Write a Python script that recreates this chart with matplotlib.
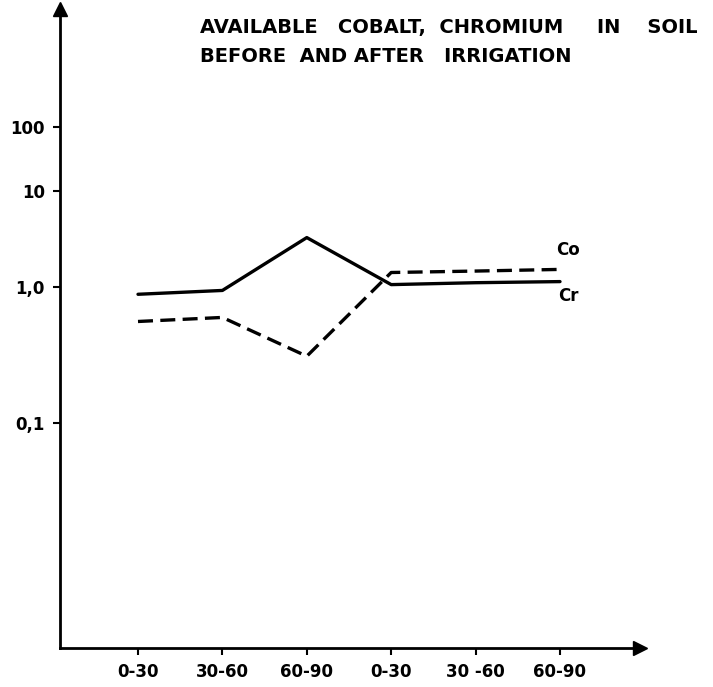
import matplotlib
matplotlib.use("Agg")
import matplotlib.pyplot as plt
import numpy as np

# depth ranges (cm), before and after irrigation
depths = ['0-30', '30-60', '60-90', '0-30', '30 -60', '60-90']
co_vals = [0.56, 0.60, 0.31, 1.43, 1.48, 1.54]   # dashed
cr_vals = [0.89, 0.95, 3.3, 1.07, 1.12, 1.15]     # solid
ytick_vals = [0.1, 1.0, 10, 100]
ytick_labels = ['0,1', '1,0', '10', '100']

# the hand drawn axis is not a true log scale: decades have unequal heights
anchor_log = np.array([-5.0, -1.0, 0.0, 1.0, 2.0, 5.0])
anchor_pos = np.array([-540.0, 0.0, 135.0, 231.0, 295.0, 487.0])


def forward(v):
    v = np.clip(np.asarray(v, dtype=float), 1e-6, None)
    return np.interp(np.log10(v), anchor_log, anchor_pos)


def inverse(p):
    return 10 ** np.interp(np.asarray(p, dtype=float), anchor_pos, anchor_log)


fig = plt.figure(figsize=(7.13, 6.87), dpi=100)
ax = fig.add_axes([60 / 713, 39 / 687, 580 / 713, 639 / 687])
ax.set_yscale('function', functions=(forward, inverse))

x = np.arange(1, len(depths) + 1)
ax.plot(x, cr_vals, color='black', lw=2.4, solid_capstyle='round')
ax.plot(x, co_vals, color='black', lw=2.4, dashes=(4.5, 2.2))

ax.set_xlim(1 - 78 / 84.4, 1 + 502 / 84.4)
ax.set_ylim(inverse(-225), inverse(413))

ax.set_xticks(x)
ax.set_xticklabels(depths, fontsize=12, fontweight='bold')
ax.set_yticks(ytick_vals)
ax.set_yticklabels(ytick_labels, fontsize=12, fontweight='bold')
ax.yaxis.set_minor_locator(plt.NullLocator())
ax.xaxis.set_minor_locator(plt.NullLocator())
ax.tick_params(axis='both', direction='out', length=5, width=1.5, pad=6)

for s in ['top', 'right']:
    ax.spines[s].set_visible(False)
for s in ['left', 'bottom']:
    ax.spines[s].set_linewidth(2)

# arrow heads on the axes
ax.plot(0, 1, marker='^', color='black', markersize=10, transform=ax.transAxes, clip_on=False)
ax.plot(1, 0, marker='>', color='black', markersize=10, transform=ax.transAxes, clip_on=False)

ax.text(6.1, co_vals[-1] * 1.28, 'Co', fontsize=12, fontweight='bold', ha='center', va='bottom')
ax.text(6.1, cr_vals[-1] * 0.88, 'Cr', fontsize=12, fontweight='bold', ha='center', va='top')

fig.text(200 / 713, 1 - 28 / 687, 'AVAILABLE   COBALT,  CHROMIUM     IN    SOIL',
         fontsize=14, fontweight='bold', va='center', ha='left')
fig.text(200 / 713, 1 - 57 / 687, 'BEFORE  AND AFTER   IRRIGATION',
         fontsize=14, fontweight='bold', va='center', ha='left')

fig.savefig('out.png', dpi=100)
